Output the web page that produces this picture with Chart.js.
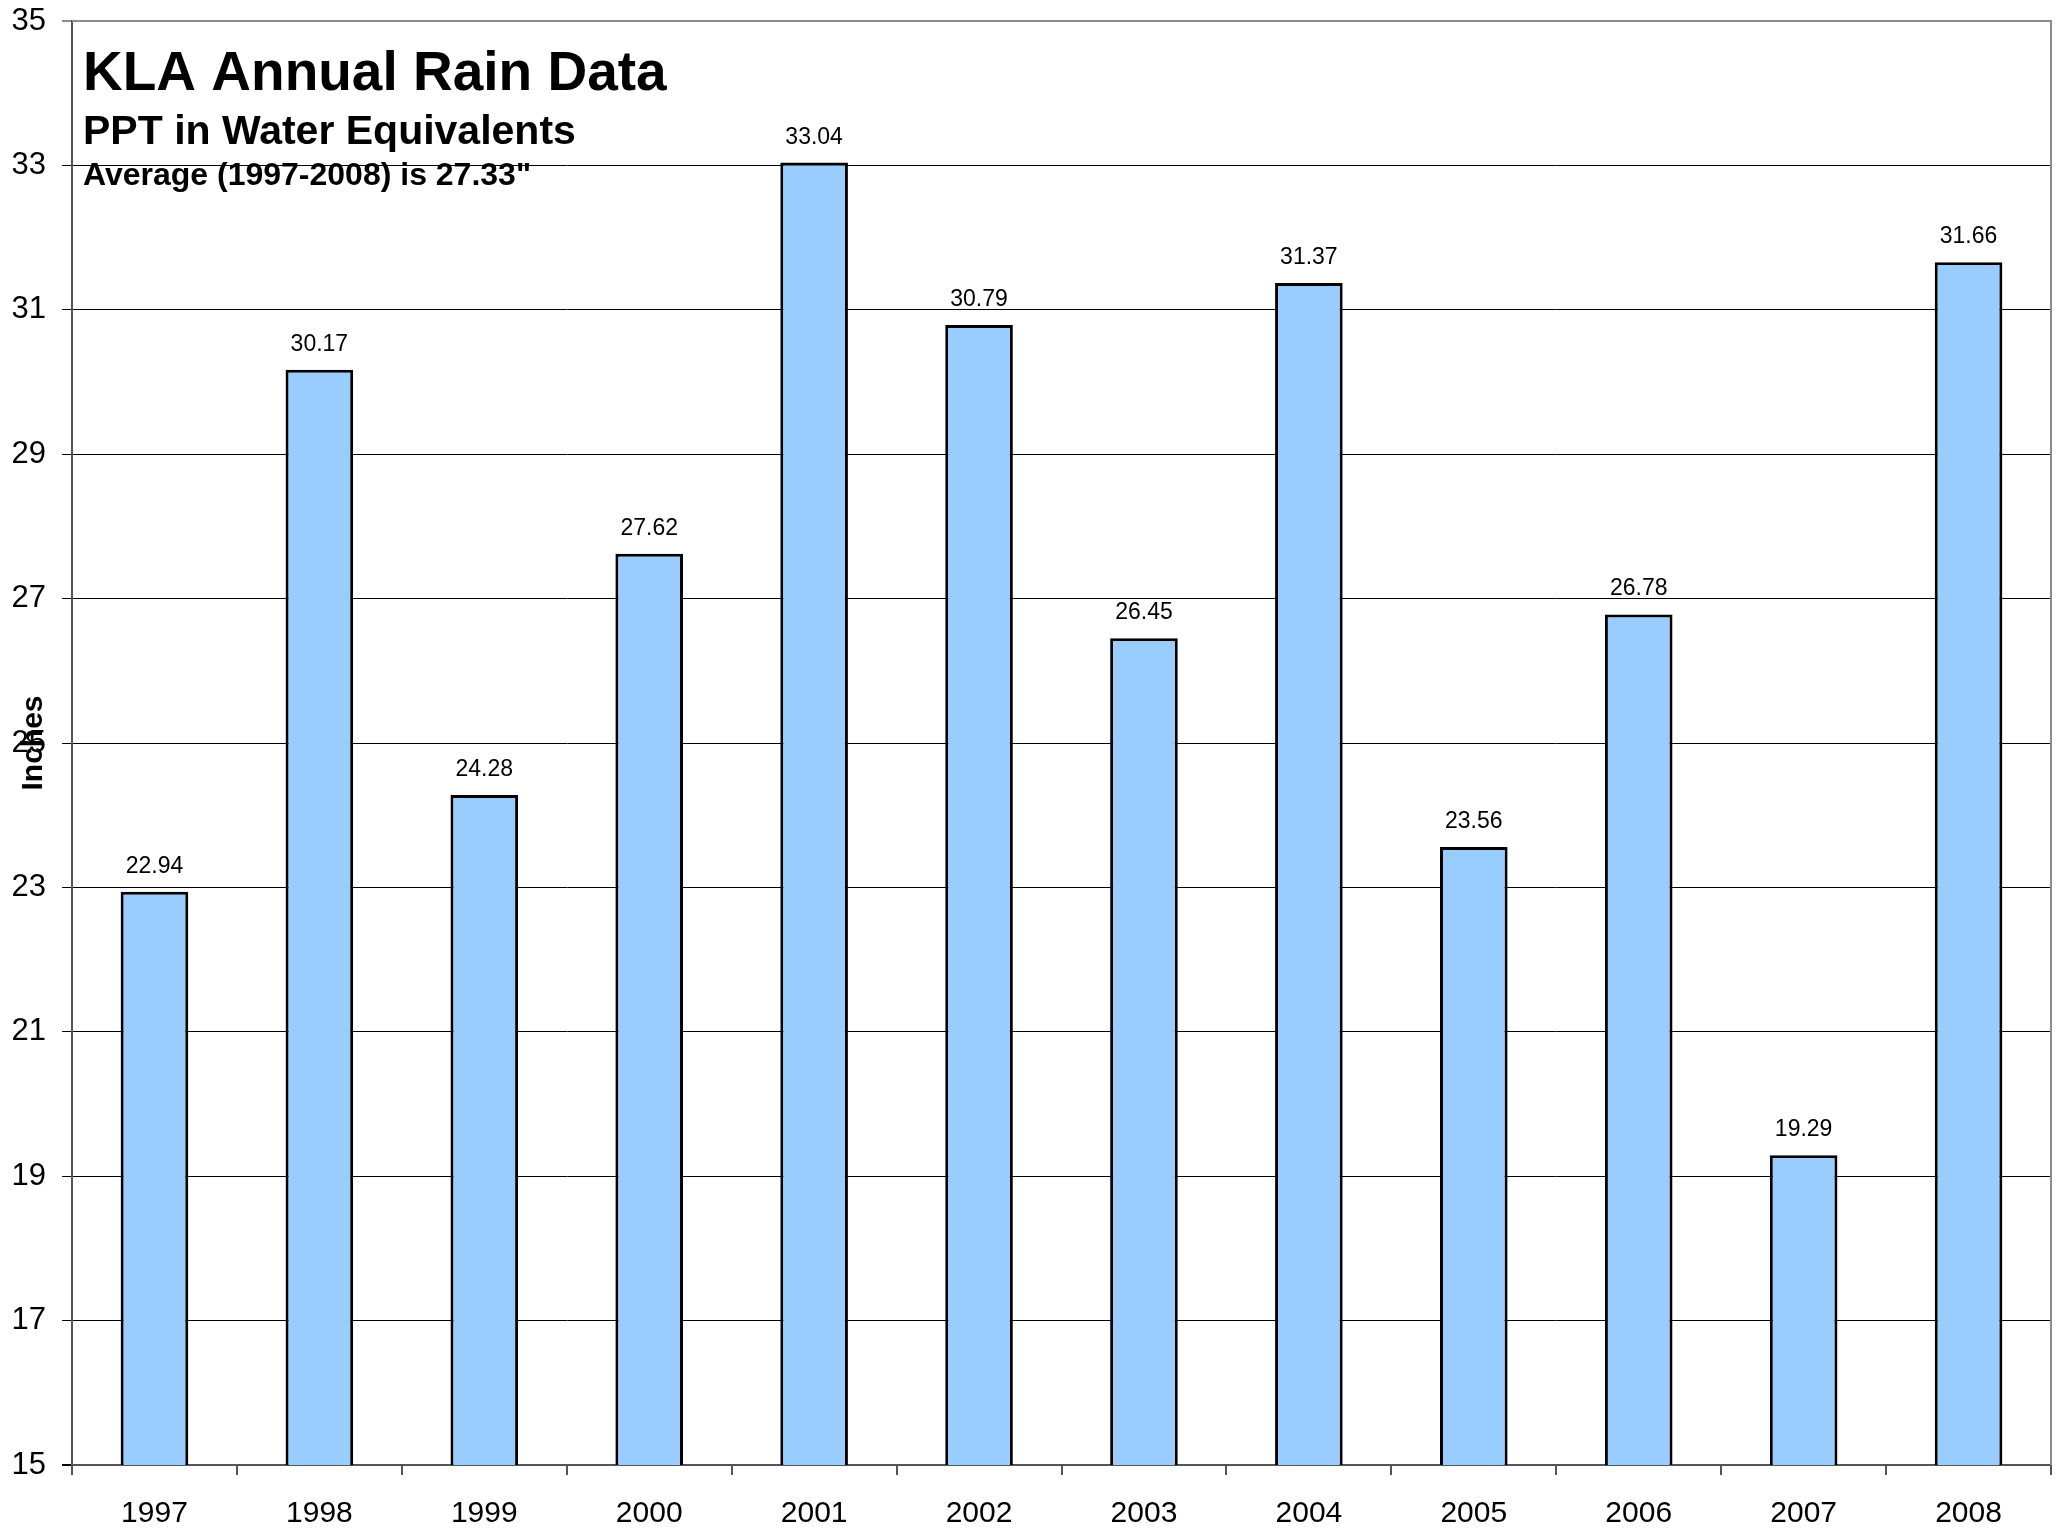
<!DOCTYPE html>
<html>
<head>
<meta charset="utf-8">
<script src="https://cdn.jsdelivr.net/npm/chart.js@4.4.1/dist/chart.umd.min.js"></script>
<style>
  html, body { margin: 0; padding: 0; background: #fff; }
  #wrap { width: 2059px; height: 1529px; }
</style>
</head>
<body>
<div id="wrap"><canvas id="rainChart" width="2059" height="1529"></canvas></div>
<script>
// data
const years = ['1997', '1998', '1999', '2000', '2001', '2002', '2003', '2004', '2005', '2006', '2007', '2008'];
const rainInches = [22.94, 30.17, 24.28, 27.62, 33.04, 30.79, 26.45, 31.37, 23.56, 26.78, 19.29, 31.66];
const yMin = 15;
const yMax = 35;
const yStep = 2;

const titleLines = [
  { text: 'KLA Annual Rain Data', size: 55, dy: 69 },
  { text: 'PPT in Water Equivalents', size: 41, dy: 123 },
  { text: 'Average (1997-2008) is 27.33"', size: 32, dy: 164 }
];

const FONT = '"Liberation Sans", Arial, Helvetica, sans-serif';

/* titles, axis title, value labels, frame */
const extras = {
  id: 'extras',
  beforeDatasetsDraw(chart) {
    const ctx = chart.ctx;
    const a = chart.chartArea;
    ctx.save();
    ctx.strokeStyle = '#8c8c8c';
    ctx.lineWidth = 2;
    ctx.beginPath();
    ctx.moveTo(a.left, a.top);
    ctx.lineTo(a.right, a.top);
    ctx.lineTo(a.right, a.bottom);
    ctx.stroke();
    ctx.restore();
  },
  afterDatasetsDraw(chart) {
    const ctx = chart.ctx;
    const a = chart.chartArea;
    ctx.save();
    ctx.fillStyle = '#000';
    ctx.textAlign = 'center';
    ctx.textBaseline = 'alphabetic';
    ctx.font = '23px ' + FONT;
    chart.getDatasetMeta(0).data.forEach(function (bar, i) {
      ctx.fillText(rainInches[i].toFixed(2), bar.x, bar.y - 19);
    });

    ctx.textAlign = 'left';
    titleLines.forEach(function (t) {
      ctx.font = 'bold ' + t.size + 'px ' + FONT;
      ctx.fillText(t.text, a.left + 11, a.top + t.dy);
    });

    // y axis title, overlapping the tick labels like the original
    ctx.translate(a.left - 38, (a.top + a.bottom) / 2);
    ctx.rotate(-Math.PI / 2);
    ctx.textAlign = 'center';
    ctx.textBaseline = 'middle';
    ctx.font = 'bold 30px ' + FONT;
    ctx.fillText('Inches', 0, 0);
    ctx.restore();
  }
};

const ctx = document.getElementById('rainChart').getContext('2d');

new Chart(ctx, {
  type: 'bar',
  data: {
    labels: years,
    datasets: [{
      label: 'Inches',
      data: rainInches,
      backgroundColor: '#99CCFF',
      borderColor: '#000',
      borderWidth: 3,
      borderSkipped: false,
      barPercentage: 0.41,
      categoryPercentage: 1
    }]
  },
  options: {
    responsive: false,
    animation: false,
    layout: { padding: { top: 21, right: 8, left: 0, bottom: 0 } },
    plugins: {
      legend: { display: false },
      tooltip: { enabled: false }
    },
    scales: {
      x: {
        afterFit: function (s) { s.height = 64; },
        grid: {
          offset: true,
          drawOnChartArea: false,
          drawTicks: true,
          tickLength: 10,
          color: '#555',
          lineWidth: 2
        },
        border: { color: '#555', width: 2 },
        ticks: {
          color: '#000',
          padding: 21,
          font: { family: FONT, size: 30 }
        }
      },
      y: {
        min: yMin,
        max: yMax,
        afterFit: function (s) {
          s.width = 72;
          s.paddingTop = 0;
          s.paddingBottom = 0;
        },
        grid: {
          drawTicks: true,
          tickLength: 10,
          color: function (c) { return c.tick && c.tick.value === yMax ? '#8c8c8c' : '#000'; },
          lineWidth: function (c) { return c.tick && (c.tick.value === yMax || c.tick.value === yMin) ? 2 : 1; }
        },
        border: { color: '#555', width: 2 },
        ticks: {
          stepSize: yStep,
          color: '#000',
          padding: 16,
          font: { family: FONT, size: 31 }
        }
      }
    }
  },
  plugins: [extras]
});
</script>
</body>
</html>
